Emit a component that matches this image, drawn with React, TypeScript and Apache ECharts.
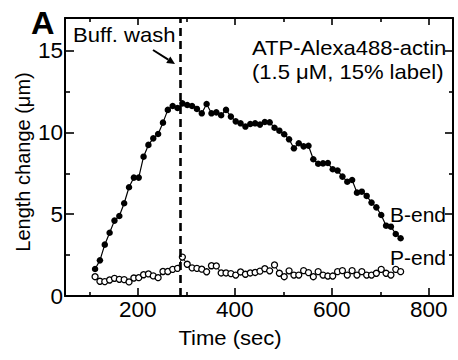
import { useEffect, useRef } from "react";
import * as echarts from "echarts";

const times = [
  112, 122, 132, 142, 152, 162, 172, 182, 192, 202, 212, 222, 232, 242, 252, 262,
  272, 282, 292, 302, 312, 322, 332, 342, 352, 362, 372, 382, 392, 402, 412, 422,
  432, 442, 452, 462, 472, 482, 492, 502, 512, 522, 532, 542, 552, 562, 572, 582,
  592, 602, 612, 622, 632, 642, 652, 662, 672, 682, 692, 702, 712, 722, 732, 742,
];

const bEnd = [
  1.65, 2.18, 3.14, 3.87, 4.61, 4.89, 5.67, 6.65, 7.24, 7.24, 8.52, 9.24, 9.64, 9.91, 10.6, 11.38,
  11.62, 11.5, 11.78, 11.68, 11.62, 11.44, 11.17, 11.74, 11.17, 11.23, 11.05, 11.38, 10.97, 10.68, 10.56, 10.36,
  10.52, 10.56, 10.48, 10.64, 10.62, 10.29, 10.11, 9.89, 9.58, 9.03, 9.34, 9.15, 9.19, 8.36, 8.09, 8.11,
  8.13, 7.75, 7.67, 7.3, 6.99, 7.09, 6.32, 6.38, 6.12, 5.71, 5.42, 4.95, 4.3, 4.24, 3.79, 3.53,
];

const pEnd = [
  1.18, 0.9, 0.88, 0.98, 1.08, 1.02, 1.0, 0.86, 1.1, 1.12, 1.3, 1.35, 1.23, 1.12, 1.5, 1.5,
  1.63, 1.69, 2.38, 1.94, 1.72, 1.69, 1.64, 1.48, 1.85, 1.84, 1.41, 1.41, 1.37, 1.28, 1.47, 1.33,
  1.41, 1.44, 1.52, 1.67, 1.54, 1.9, 1.39, 1.18, 1.54, 1.28, 1.28, 1.55, 1.43, 1.18, 1.49, 1.28,
  1.22, 1.22, 1.49, 1.55, 1.28, 1.55, 1.28, 1.49, 1.28, 1.28, 1.39, 1.63, 1.39, 1.28, 1.63, 1.49,
];

const xLabelValues = [200, 400, 600, 800];
const xMinorValues = [100, 300, 500, 700];
const yLabelValues = [0, 5, 10, 15];
const yMinorValues = [2.5, 7.5, 12.5];
const washTime = 287;

const FONT = "'Liberation Sans', Arial, Helvetica, sans-serif";

export default function App() {
  const ref = useRef<HTMLDivElement>(null);

  useEffect(() => {
    const chart = echarts.init(ref.current!, null, { renderer: "svg" });

    const lineStyle = { color: "#000", width: 2 };
    const tickStyle = { color: "#000", width: 1.6 };

    const xAxis = (pos: string, values: number[], len: number, labels: boolean, line: boolean) => ({
      type: "value",
      min: 50,
      max: 850,
      position: pos,
      offset: 0,
      axisLine: { show: line, onZero: false, lineStyle },
      axisTick: { show: true, inside: true, length: len, customValues: values, lineStyle: tickStyle },
      axisLabel: labels
        ? { show: true, customValues: xLabelValues, margin: 2, fontSize: 22.5, color: "#000", fontFamily: FONT }
        : { show: false },
      splitLine: { show: false },
    });
    const yAxis = (pos: string, values: number[], len: number, labels: boolean, line: boolean) => ({
      type: "value",
      min: 0,
      max: 17,
      position: pos,
      offset: 0,
      axisLine: { show: line, onZero: false, lineStyle },
      axisTick: { show: true, inside: true, length: len, customValues: values, lineStyle: tickStyle },
      axisLabel: labels
        ? { show: true, customValues: yLabelValues, margin: 2, fontSize: 22.5, color: "#000", fontFamily: FONT }
        : { show: false },
      splitLine: { show: false },
    });

    const ax = 153, ay = 50, bx = 175, by = 64;
    const dx = bx - ax, dy = by - ay;
    const dl = Math.sqrt(dx * dx + dy * dy);
    const ux = dx / dl, uy = dy / dl;
    const hl = 8, hw = 3.8;
    const baseX = bx - ux * hl, baseY = by - uy * hl;

    const txt = (text: string, x: number, y: number, size: number, align: string, sx = 1.05) => ({
      type: "text",
      x,
      y,
      scaleX: sx,
      style: { text, font: `${size}px ${FONT}`, fill: "#000", align, verticalAlign: "middle" },
    });

    chart.setOption({
      animation: false,
      backgroundColor: "#fff",
      grid: { left: 65, right: 5, top: 18, bottom: 64, containLabel: false },
      xAxis: [
        xAxis("bottom", xLabelValues, 8, true, true),
        xAxis("bottom", xMinorValues, 4, false, false),
        xAxis("top", xLabelValues, 7, false, true),
        xAxis("top", xMinorValues, 4, false, false),
      ],
      yAxis: [
        yAxis("left", yLabelValues, 9, true, true),
        yAxis("left", yMinorValues, 5, false, false),
        yAxis("right", yLabelValues, 8, false, true),
        yAxis("right", yMinorValues, 4, false, false),
      ],
      series: [
        {
          name: "P-end",
          type: "line",
          xAxisIndex: 0,
          yAxisIndex: 0,
          data: times.map((t, i) => [t, pEnd[i]]),
          symbol: "circle",
          symbolSize: 6,
          showAllSymbol: true,
          lineStyle: { color: "#000", width: 1 },
          itemStyle: { color: "#fff", borderColor: "#000", borderWidth: 1.3 },
        },
        {
          name: "B-end",
          type: "line",
          xAxisIndex: 0,
          yAxisIndex: 0,
          data: times.map((t, i) => [t, bEnd[i]]),
          symbol: "circle",
          symbolSize: 6.5,
          showAllSymbol: true,
          lineStyle: { color: "#000", width: 1.2 },
          itemStyle: { color: "#000", borderColor: "#000", borderWidth: 0 },
          markLine: {
            silent: true,
            symbol: ["none", "none"],
            label: { show: false },
            lineStyle: { color: "#000", width: 2.6, type: [8, 5] },
            data: [{ xAxis: washTime }],
          },
        },
      ],
      graphic: [
        {
          type: "text",
          x: 31,
          y: 23,
          scaleX: 1.05,
          style: { text: "A", font: `bold 31px ${FONT}`, fill: "#000", align: "left", verticalAlign: "middle" },
        },
        txt("Buff. wash", 73, 35, 21, "left"),
        {
          type: "line",
          shape: { x1: ax, y1: ay, x2: baseX, y2: baseY },
          style: { stroke: "#000", lineWidth: 2 },
        },
        {
          type: "polygon",
          shape: {
            points: [
              [bx, by],
              [baseX - uy * hw, baseY + ux * hw],
              [baseX + uy * hw, baseY - ux * hw],
            ],
          },
          style: { fill: "#000" },
        },
        txt("ATP-Alexa488-actin", 252, 48, 21, "left"),
        txt("(1.5 μM, 15% label)", 252, 72, 21, "left"),
        txt("B-end", 446, 215, 20, "right"),
        txt("P-end", 446, 258, 20, "right"),
        txt("Time (sec)", 230, 338, 21, "center"),
        {
          type: "text",
          x: 23,
          y: 162,
          rotation: Math.PI / 2,
          style: { text: "Length change (μm)", font: `20px ${FONT}`, fill: "#000", align: "center", verticalAlign: "middle" },
        },
      ],
    });

    return () => chart.dispose();
  }, []);

  return (
    <div
      ref={ref}
      style={{ position: "fixed", left: 0, top: 0, width: 458, height: 360, background: "#fff" }}
    />
  );
}
